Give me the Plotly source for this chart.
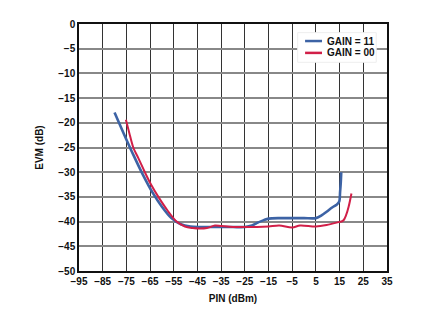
import plotly.graph_objects as go

blue_x = [-80, -76, -72, -68, -64, -60, -56, -52, -48, -44, -40, -35, -30, -25, -22, -20, -17, -15, -10, -5, 0, 5, 7.5, 9.5, 12, 13.7, 14.8, 15.2, 15.5, 15.7]
blue_y = [-17.9, -22.3, -26.55, -30.55, -34.1, -37.0, -39.3, -40.55, -41.0, -41.1, -41.1, -41.1, -41.1, -41.1, -40.8, -40.3, -39.7, -39.4, -39.3, -39.3, -39.3, -39.3, -38.7, -38, -37.1, -36.6, -36, -34, -32, -30]
red_x = [-75.2, -73.8, -72.1, -70, -67.2, -64.6, -61.5, -57.7, -53.8, -50.3, -47, -44, -41, -37.6, -35, -30, -25, -20, -15, -10.5, -5, -1.7, 5, 9.5, 13.7, 16.5, 17.8, 18.8, 20.0]
red_y = [-19.4, -22, -25, -27.1, -30, -32.5, -35, -37.7, -40, -41.0, -41.3, -41.4, -41.3, -40.8, -40.9, -41.1, -41.1, -41.1, -41.0, -40.8, -41.2, -40.8, -41.0, -40.7, -40.2, -39.8, -38.6, -37, -34.3]

series_names = ["GAIN = 11", "GAIN = 00"]
series_colors = ["#3d63a5", "#d11f48"]

x_ticks = list(range(-95, 36, 10))
y_ticks = list(range(-50, 1, 5))

fig = go.Figure()
fig.add_trace(go.Scatter(x=blue_x, y=blue_y, mode="lines", name=series_names[0],
                         line=dict(color=series_colors[0], width=2.6, shape="spline", smoothing=0.9)))
fig.add_trace(go.Scatter(x=red_x, y=red_y, mode="lines", name=series_names[1],
                         line=dict(color=series_colors[1], width=2, shape="spline", smoothing=0.9)))

font_b = dict(family="Liberation Sans, Arial", size=10, color="#111", weight="bold")

# compact legend drawn in paper coordinates
shapes = [dict(type="rect", xref="paper", yref="paper", x0=0.71, x1=0.965, y0=0.845, y1=0.965,
               fillcolor="white", line=dict(color="#eeeeee", width=1), layer="above")]
annotations = []
rows = [0.931, 0.883]
for name, color, yy in zip(series_names, series_colors, rows):
    shapes.append(dict(type="line", xref="paper", yref="paper", x0=0.734, x1=0.789, y0=yy, y1=yy,
                       line=dict(color=color, width=2.5), layer="above"))
    annotations.append(dict(x=0.800, y=yy, xref="paper", yref="paper", text=name, showarrow=False,
                            xanchor="left", yanchor="middle", font=font_b))

fig.update_layout(
    width=425, height=319,
    margin=dict(l=79, r=38, t=24, b=48),
    paper_bgcolor="white", plot_bgcolor="white",
    showlegend=False,
    shapes=shapes, annotations=annotations,
    xaxis=dict(range=[-95, 35], tickvals=x_ticks, ticktext=[str(v).replace("-", "\u2212") for v in x_ticks],
               showgrid=True, gridcolor="#333", gridwidth=1, zeroline=False,
               showline=True, linecolor="#111", linewidth=1.5, mirror=True,
               ticks="", tickfont=font_b,
               title=dict(text="PIN (dBm)", font=font_b, standoff=9)),
    yaxis=dict(range=[-50, 0], tickvals=y_ticks, ticktext=[str(v).replace("-", "\u2212") for v in y_ticks],
               showgrid=True, gridcolor="#888", gridwidth=1.5, zeroline=False,
               showline=True, linecolor="#111", linewidth=1.5, mirror=True,
               ticks="", tickfont=font_b,
               title=dict(text="EVM (dB)", font=font_b, standoff=13)),
)
fig.write_html("out.html")
